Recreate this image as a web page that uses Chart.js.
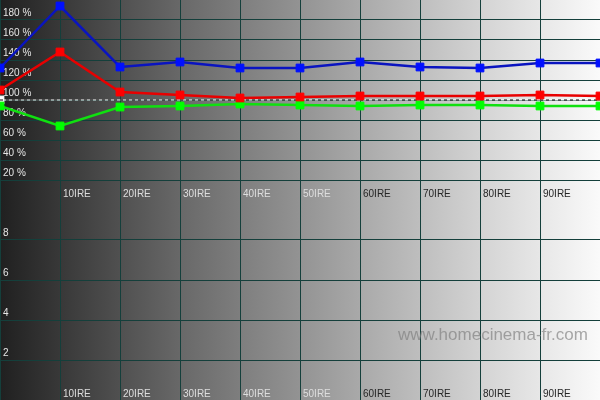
<!DOCTYPE html>
<html>
<head>
<meta charset="utf-8">
<script src="https://cdn.jsdelivr.net/npm/chart.js@4.4.1/dist/chart.umd.min.js"></script>
<style>
  html, body { margin: 0; padding: 0; }
  body {
    width: 600px; height: 400px; overflow: hidden; position: relative;
    background: linear-gradient(to right, #202020 0%, #383838 10%, #505050 20%, #686868 30%, #7e7e7e 40%, #939393 50%, #a9a9a9 60%, #bebebe 70%, #d3d3d3 80%, #e7e7e7 90%, #fafafa 100%);
  }
  .box { position: absolute; left: 0; width: 600px; height: 200px; }
  #top { top: 0; }
  #bottom { top: 200px; }
</style>
</head>
<body>
<div class="box" id="top"><canvas id="c1" width="600" height="200"></canvas></div>
<div class="box" id="bottom"><canvas id="c2" width="600" height="200"></canvas></div>
<script>
// ---- data ----
const categories = ['0IRE', '10IRE', '20IRE', '30IRE', '40IRE', '50IRE', '60IRE', '70IRE', '80IRE', '90IRE', '100IRE'];
const blueValues  = [132, 194, 133, 138, 132, 132, 138, 133, 132, 137, 137];
const redValues   = [110, 148, 108, 105, 102, 103, 104, 104, 104, 105, 104];
const greenValues = [94, 74, 93, 94, 96, 95, 94, 95, 95, 94, 94];
const referenceValues = [100, 100, 100, 100, 100, 100, 100, 100, 100, 100, 100];
const topRange = [0, 200];
const topStep = 20;
const bottomRange = [0, 10];
const bottomStep = 2;
const watermark = 'www.homecinema-fr.com';

// ---- styles ----
const gridColor = '#143f3b';
const font = { family: 'Liberation Sans, Arial, sans-serif', size: 10 };

function noPad(s) {
  s.paddingTop = 0; s.paddingBottom = 0; s.paddingLeft = 0; s.paddingRight = 0;
}

function xScale() {
  return {
    type: 'category',
    offset: false,
    border: { display: false },
    grid: { color: gridColor, lineWidth: 1, drawTicks: false },
    afterFit: s => { s.height = 0; noPad(s); },
    ticks: {
      mirror: true, padding: 0, align: 'start', labelOffset: 3,
      autoSkip: false, maxRotation: 0, minRotation: 0,
      font: font,
      color: ctx => (ctx.index <= 5 ? '#dedede' : '#262626'),
      callback: function (value, index) {
        return (index === 0 || index === categories.length - 1) ? '' : this.getLabelForValue(value);
      }
    }
  };
}

function yScale(range, step, fmt) {
  return {
    min: range[0], max: range[1],
    border: { display: false },
    grid: {
      drawTicks: false, lineWidth: 1,
      color: ctx => ((ctx.tick && (ctx.tick.value === range[0] || ctx.tick.value === range[1])) ? 'rgba(0,0,0,0)' : gridColor)
    },
    afterFit: s => { s.width = 0; noPad(s); },
    ticks: {
      stepSize: step, mirror: true, padding: 3, labelOffset: -7,
      font: font, color: '#e6e6e6',
      callback: v => ((v === range[0] || v === range[1]) ? '' : fmt(v))
    }
  };
}

function series(label, values, line, marker) {
  return {
    label: label, data: values,
    borderColor: line, backgroundColor: marker,
    borderWidth: 2.5, tension: 0,
    pointStyle: 'rect', pointRadius: 5.5, pointBorderWidth: 1,
    pointBorderColor: marker, pointBackgroundColor: marker
  };
}

new Chart(document.getElementById('c1'), {
  type: 'line',
  data: {
    labels: categories,
    datasets: [
      series('Bleu', blueValues, '#0a14c0', '#0010ff'),
      series('Rouge', redValues, '#e80000', '#ff0000'),
      series('Vert', greenValues, '#10e010', '#00ff00'),
      {
        label: 'Référence', data: referenceValues,
        borderColor: '#000000', borderWidth: 1, borderDash: [3, 3],
        pointRadius: 0, tension: 0
      },
      {
        label: 'Référence blanc', data: referenceValues,
        borderColor: '#ffffff', borderWidth: 1,
        pointStyle: 'rect', pointRadius: [5.5, 0, 0, 0, 0, 0, 0, 0, 0, 0, 0],
        pointBackgroundColor: '#ffffff', pointBorderColor: '#ffffff', tension: 0
      }
    ]
  },
  options: {
    responsive: false, animation: false,
    layout: { padding: 0, autoPadding: false },
    plugins: { legend: { display: false }, tooltip: { enabled: false }, title: { display: false } },
    scales: { x: xScale(), y: yScale(topRange, topStep, v => v + ' %') }
  }
});

const watermarkPlugin = {
  id: 'watermark',
  afterDraw(chart) {
    const ctx = chart.ctx;
    ctx.save();
    ctx.font = '17px Liberation Sans, Arial, sans-serif';
    ctx.fillStyle = 'rgba(125,125,125,0.65)';
    ctx.textAlign = 'left';
    ctx.textBaseline = 'alphabetic';
    ctx.fillText(watermark, 398, 140);
    ctx.restore();
  }
};

new Chart(document.getElementById('c2'), {
  type: 'line',
  data: { labels: categories, datasets: [] },
  options: {
    responsive: false, animation: false,
    layout: { padding: 0, autoPadding: false },
    plugins: { legend: { display: false }, tooltip: { enabled: false }, title: { display: false } },
    scales: { x: xScale(), y: yScale(bottomRange, bottomStep, v => String(v)) }
  },
  plugins: [watermarkPlugin]
});
</script>
</body>
</html>
